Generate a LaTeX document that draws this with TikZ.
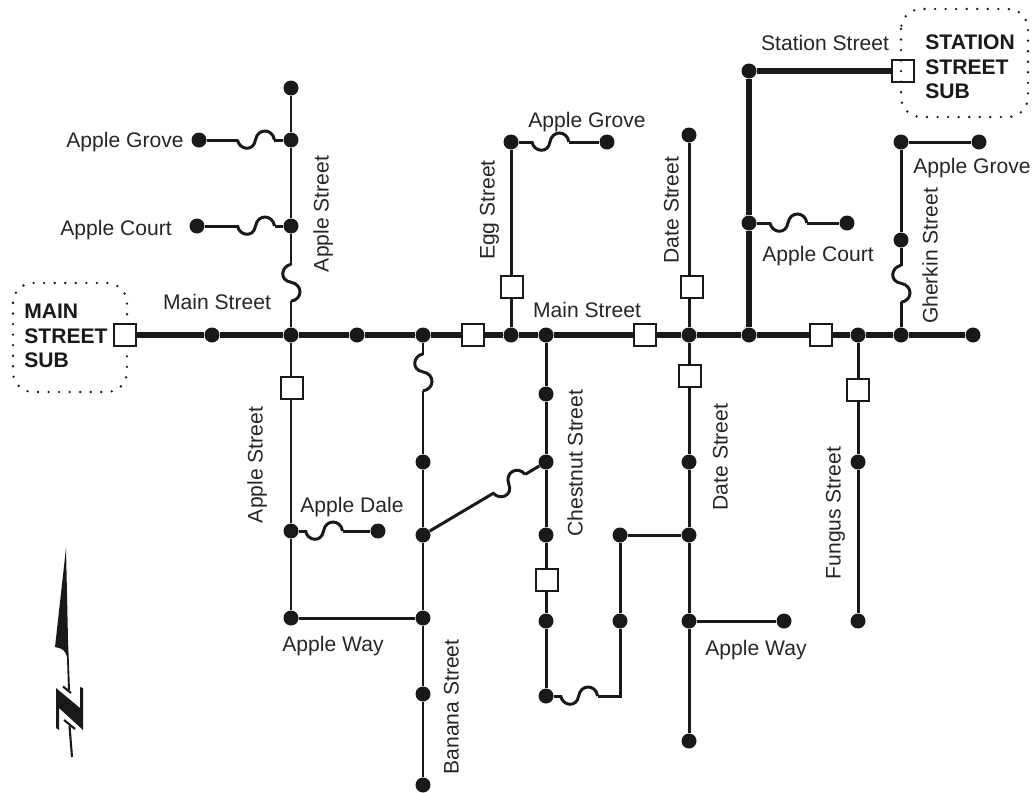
\documentclass[tikz,border=0pt]{standalone}
\usepackage{fontspec}
\setmainfont{Liberation Sans}
\tikzset{
  dot/.style={circle, fill=black!90, inner sep=0pt, minimum size=0.3cm},
  swbox/.style={rectangle, draw=black!90, fill=white, line width=1.3pt, inner sep=0pt, minimum size=0.43cm},
  feeder/.style={line width=2.9pt, black!90},
  branch/.style={line width=1.7pt, black!90},
  subarea/.style={black!90, line width=1.5pt, line cap=round, dash pattern=on 0pt off 6pt, rounded corners=0.4cm},
  sublabel/.style={font=\fontsize{12}{13.9}\selectfont\bfseries, align=left, inner sep=0pt, text=black!90, anchor=west},
  street/.style={font=\fontsize{12}{14}\selectfont, inner sep=0pt, text height=8.6pt, text depth=0pt, text=black!85},
  fuse/.pic={
    \draw[white, line width=2.6pt] (-18,0) -- (18,0);
    \draw[branch] (-19,0) .. controls (-17,10) and (-3,12) .. (-1,0)
      .. controls (1,-12) and (16,-12) .. (18,0);
  }
}
\begin{document}
\begin{tikzpicture}[x=0.02cm, y=-0.02cm, allow upside down]
\useasboundingbox (0,0) rectangle (1034,792);
% Substation areas
\draw[subarea] (13,283) rectangle (127,392);
% Dots
\foreach \name/\x/\y in {
  ma/212/335, mb/291/335, mc/357/335, md/423/335, me/511/335, mf/546/335,
  mg/689/335, mh/749/335, mi/858/335, mj/901/335, mk/973/335,
  na/291/88, nb/291/140, nc/291/226, groveA/199/140, courtA/197/226,
  sa/291/531, sb/291/618, dale/378/531,
  ba/423/462, bb/423/535, bc/423/618, bd/423/694, be/423/785,
  ca/546/394, cb/546/462, cc/546/535, cd/546/621, ce/546/696,
  pa/620/621, pb/620/535,
  da/689/135, db/689/462, dc/689/535, dd/689/621, de/689/741, wayB/784/621,
  ea/511/142, groveB/607/142,
  ta/749/71, tb/749/223, courtB/847/223,
  fa/858/462, fb/858/621,
  ga/901/142, groveC/979/142, gb/901/240}
  \node[dot] (\name) at (\x,\y) {};
\node[swbox] (subA) at (125,335) {};
\node[swbox] (subB) at (903,71) {};
\coordinate (corner) at (620,696);
% Feeders
\draw[feeder] (subA) -- (ma) -- (mb) -- (mc) -- (md) -- (me) -- (mf)
  -- (mg) -- (mh) -- (mi) -- (mj) -- (mk);
\draw[feeder] (subB) -- (ta) -- (tb) -- (mh);
% Apple Street
\draw[branch] (na) -- (nb) -- (nc) -- pic[pos=0.53, sloped]{fuse} (mb);
\draw[branch] (groveA) -- pic[pos=0.65, sloped]{fuse} (nb);
\draw[branch] (courtA) -- pic[pos=0.66, sloped]{fuse} (nc);
\draw[branch] (mb) -- (sa) -- (sb) -- (bc);
\draw[branch] (sa) -- pic[pos=0.36, sloped]{fuse} (dale);
% Banana Street
\draw[branch] (md) -- pic[pos=0.27, sloped]{fuse} (ba);
\draw[branch] (ba) -- (bb) -- (bc) -- (bd) -- (be);
\draw[branch] (bb) -- pic[pos=0.73, sloped]{fuse} (cb);
% Chestnut Street
\draw[branch] (mf) -- (ca) -- (cb) -- (cc) -- (cd) -- (ce);
\draw[branch] (ce) -- pic[pos=0.39, sloped]{fuse} (corner) -- (pa) -- (pb) -- (dc);
% Date Street
\draw[branch] (da) -- (mg) -- (db) -- (dc) -- (dd) -- (de);
\draw[branch] (dd) -- (wayB);
% Egg Street
\draw[branch] (me) -- (ea);
\draw[branch] (ea) -- pic[pos=0.4, sloped]{fuse} (groveB);
% Station Street side
\draw[branch] (tb) -- pic[pos=0.39, sloped]{fuse} (courtB);
% Fungus Street
\draw[branch] (mi) -- (fa) -- (fb);
% Gherkin Street
\draw[branch] (ga) -- (gb) -- pic[pos=0.46, sloped]{fuse} (mj);
\draw[branch] (ga) -- (groveC);
% Switches
\foreach \name/\x/\y in {
  swA/473/335, swB/645/335, swC/821/335, swD/292/388,
  swE/512/287, swF/692/287, swG/690/376, swH/858/390, swI/547/580}
  \node[swbox] (\name) at (\x,\y) {};
% Station sub on top of its switch
\draw[subarea] (901,9) rectangle (1028,117);
% Labels
\node[sublabel] (mainsub) at (24,336) {MAIN\\STREET\\SUB};
\node[sublabel] (stationsub) at (925,67) {STATION\\STREET\\SUB};
\foreach \name/\x/\y/\txt in {
  la/125/140/Apple Grove, lb/116/228/Apple Court, lc/217/302/Main Street,
  ld/587/120/Apple Grove, le/587/310/Main Street, lf/825/43/Station Street,
  lg/972/166/Apple Grove, lh/818/254/Apple Court, li/352/505/Apple Dale,
  lj/333/644/Apple Way, lk/756/648/Apple Way}
  \node[street] (\name) at (\x,\y) {\txt};
\foreach \name/\x/\y/\txt in {
  va/321/214/Apple Street, vb/255/465/Apple Street, vc/487/210/Egg Street,
  vd/671/210/Date Street, ve/720/457/Date Street, vf/575/463/Chestnut Street,
  vg/833/513/Fungus Street, vh/930/256/Gherkin Street, vi/451/707/Banana Street}
  \node[street, rotate=90] (\name) at (\x,\y) {\txt};
% North arrow
\fill[black!90] (66,548) -- (55,647) .. controls (62,648) and (66,651) .. (67,657)
  -- (68,690) -- (70,690) -- (68,640) -- cycle;
\fill[black!90] (56,688) -- (80,708) -- (80,687) -- (83,688) -- (83,730)
  -- (59,708) -- (59,730) -- (56,728) -- cycle;
\draw[black!90, line width=1.2pt] (63,686.5) -- (71,693);
\draw[black!90, line width=1.2pt] (64,720) -- (75,729);
\draw[black!90, line width=1.2pt] (69.5,726) -- (72,757);
\end{tikzpicture}
\end{document}
